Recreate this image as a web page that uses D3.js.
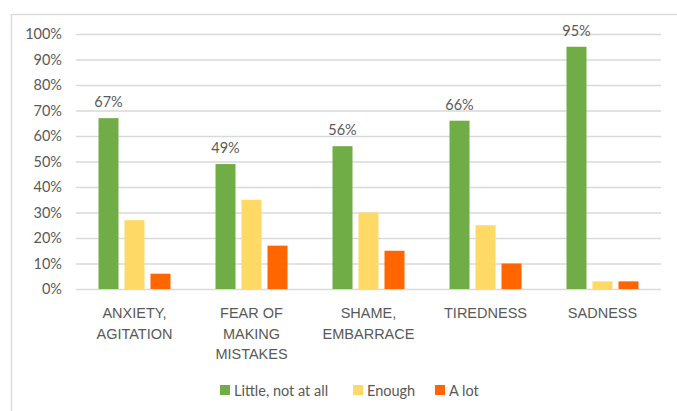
<!DOCTYPE html>
<html>
<head>
<meta charset="utf-8">
<script src="https://cdn.jsdelivr.net/npm/d3@7"></script>
<style>
  html, body { margin: 0; padding: 0; background: #fff; }
  svg { display: block; font-family: Lato, "Open Sans", sans-serif; }
</style>
</head>
<body>
<svg id="chart" width="677" height="411"></svg>
<script>
const categories = [["ANXIETY,", "AGITATION"], ["FEAR OF", "MAKING", "MISTAKES"], ["SHAME,", "EMBARRACE"], ["TIREDNESS"], ["SADNESS"]];
const seriesNames = ["Little, not at all", "Enough", "A lot"];
const littleValues = [67, 49, 56, 66, 95];
const enoughValues = [27, 35, 30, 25, 3];
const aLotValues = [6, 17, 15, 10, 3];
const yTicks = [0, 10, 20, 30, 40, 50, 60, 70, 80, 90, 100];
const colors = ["#70AD47", "#FFD966", "#FF6600"];

const seriesValues = [littleValues, enoughValues, aLotValues];
const catKeys = categories.map((c, i) => i);

const svg = d3.select("#chart");
const plotLeft = 76, plotRight = 661, plotTop = 34, plotBottom = 289;

// outer chart border (clipped at the right/bottom edges)
svg.append("rect").attr("x", 11.5).attr("y", 14.5).attr("width", 700).attr("height", 420)
  .attr("fill", "none").attr("stroke", "#D9D9D9").attr("stroke-width", 1.3);

const y = d3.scaleLinear().domain([0, 100]).range([plotBottom, plotTop]);
const x0 = d3.scaleBand().domain(catKeys).range([plotLeft, plotRight]);
const groupW = 78;
const x1 = d3.scaleBand().domain(d3.range(seriesNames.length)).range([0, groupW])
  .paddingInner(6 / 26).paddingOuter(3 / 26);

// gridlines via axis
const yAxis = d3.axisLeft(y).tickValues(yTicks).tickFormat(d => d + "%").tickSize(-(plotRight - plotLeft)).tickPadding(14);
const gy = svg.append("g").attr("transform", `translate(${plotLeft},0)`).call(yAxis);
gy.select(".domain").remove();
gy.selectAll(".tick line").attr("stroke", "#D9D9D9").attr("stroke-width", 1.3);
gy.selectAll(".tick text").attr("fill", "#595959").attr("font-size", 14.5).attr("font-family", "Lato, sans-serif");

// bars
const groups = svg.append("g").selectAll("g").data(catKeys).join("g")
  .attr("transform", d => `translate(${x0(d) + x0.bandwidth() / 2 - groupW / 2},0)`);

groups.selectAll("rect").data(ci => seriesValues.map((vals, si) => ({ si, v: vals[ci] })))
  .join("rect")
  .attr("x", d => x1(d.si))
  .attr("width", x1.bandwidth())
  .attr("y", d => y(d.v))
  .attr("height", d => y(0) - y(d.v))
  .attr("fill", d => colors[d.si]);

// data labels on green bars
groups.append("text")
  .attr("x", x1(0) + x1.bandwidth() / 2)
  .attr("y", ci => y(littleValues[ci]) - 11)
  .attr("text-anchor", "middle")
  .attr("fill", "#595959")
  .attr("font-size", 14.5)
  .text(ci => littleValues[ci] + "%");

// category labels
const xAxis = d3.axisBottom(x0).tickSize(0).tickFormat("");
const gx = svg.append("g").attr("transform", `translate(0,${plotBottom})`).call(xAxis);
gx.select(".domain").remove();
gx.selectAll(".tick").each(function(ci) {
  const t = d3.select(this).append("text")
    .attr("text-anchor", "middle").attr("fill", "#595959").attr("font-size", 14.5);
  categories[ci].forEach((line, li) => {
    t.append("tspan").attr("x", 0).attr("y", 29 + li * 20.7).text(line);
  });
});

// legend
const legendItems = [
  { x: 220, i: 0 },
  { x: 353, i: 1 },
  { x: 435, i: 2 }
];
const lg = svg.append("g");
legendItems.forEach(it => {
  lg.append("rect").attr("x", it.x).attr("y", 385).attr("width", 10).attr("height", 10).attr("fill", colors[it.i]);
  lg.append("text").attr("x", it.x + 14).attr("y", 395.5).attr("fill", "#595959").attr("font-size", 14.5)
    .text(seriesNames[it.i]);
});
</script>
</body>
</html>
